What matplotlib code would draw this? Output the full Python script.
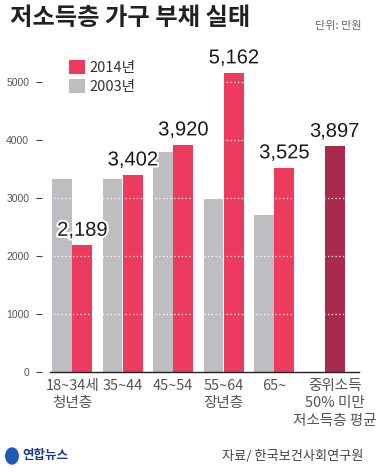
import matplotlib
matplotlib.use("Agg")
import matplotlib.pyplot as plt
import matplotlib.patheffects as pe
from matplotlib.patches import Circle
import numpy as np

plt.rcParams['font.family'] = ['Noto Sans CJK KR', 'DejaVu Sans']

# data (unit: 10,000 won)
groups = ['18~34세\n청년층', '35~44', '45~54', '55~64\n장년층', '65~']
debt_2003 = [3320, 3320, 3800, 2990, 2700]
debt_2014 = [2189, 3402, 3920, 5162, 3525]
avg_label = '중위소득\n50% 미만\n저소득층 평균'
avg_value = 3897
yticks = [0, 1000, 2000, 3000, 4000, 5000]

RED = '#EC3B5E'
GRAY = '#BEBEC2'
DARK = '#A82A4C'
NUM_FONT = ['Liberation Sans Narrow', 'Liberation Sans']

W, H = 379, 472
fig = plt.figure(figsize=(W / 100, H / 100), dpi=100)
fig.patch.set_facecolor('white')

# axes placed in pixel terms
left, right, bottom, top = 50, 359, 372, 53
ax = fig.add_axes([left / W, (H - bottom) / H, (right - left) / W, (bottom - top) / H])

x = np.arange(len(groups))
bw = 0.39
ax.bar(x - bw / 2 - 0.005, debt_2003, bw, color=GRAY, zorder=2, label='2003년')
ax.bar(x + bw / 2 + 0.005, debt_2014, bw, color=RED, zorder=2, label='2014년')
x_avg = len(groups) + bw / 2 + 0.005
ax.bar([x_avg], [avg_value], bw, color=DARK, zorder=2)

ax.set_xlim(-0.44, 5.68)
ax.set_ylim(0, 5500)

# white dotted gridlines over the bars
for t in yticks[1:]:
    ax.axhline(t, color='white', lw=0.9, ls=(0, (1, 2)), zorder=3)

# value labels
for xi, v in zip(x + bw / 2 + 0.005, debt_2014):
    ax.text(xi, v + 90, f'{v:,}', ha='center', va='bottom', fontsize=14.5,
            family=NUM_FONT, color='#1a1a1a', zorder=5,
            path_effects=[pe.withStroke(linewidth=3, foreground='white')])
ax.text(x_avg, avg_value + 90, f'{avg_value:,}', ha='center', va='bottom', fontsize=14.5,
        family=NUM_FONT, color='#1a1a1a', zorder=5)

# axes styling
for s in ['top', 'right', 'left']:
    ax.spines[s].set_visible(False)
ax.spines['bottom'].set_color('#222222')
ax.spines['bottom'].set_linewidth(1.0)
ax.spines['left'].set_position(('outward', 6))
ax.set_yticks(yticks)
ax.set_yticklabels([str(t) for t in yticks], fontsize=7.5, color='#555555', family=NUM_FONT)
ax.tick_params(axis='y', length=4, width=0.8, color='#444444', pad=5)
ax.set_xticks(list(x) + [x_avg])
ax.set_xticklabels(groups + [avg_label], fontsize=10.5, color='#555555', linespacing=1.3)
ax.tick_params(axis='x', length=0, pad=5)

# legend
ax.legend(handles=ax.containers[1:2] + ax.containers[0:1], loc='upper left',
          bbox_to_anchor=(0.02, 1.02), frameon=False, fontsize=10.5,
          handlelength=1.1, handleheight=1.1, handletextpad=0.25,
          labelspacing=0.3, labelcolor='#333333')

# title and notes
fig.text(10 / W, 1 - 18 / H, '저소득층 가구 부채 실태', fontsize=17.5, fontweight='bold',
         color='#222222', va='center', ha='left')
fig.text(362 / W, 1 - 26 / H, '단위: 만원', fontsize=8, color='#666666',
         va='center', ha='right')
fig.text(364 / W, 1 - 457 / H, '자료/ 한국보건사회연구원', fontsize=9.5, color='#444444',
         va='center', ha='right', style='italic')

# news agency mark
fig.patches.append(Circle((12 / W, 1 - 456 / H), 7 / W, transform=fig.transFigure,
                          facecolor='#1F5BB5', edgecolor='none'))
fig.text(22 / W, 1 - 456 / H, '연합뉴스', fontsize=9, fontweight='bold',
         color='#1B3A8C', va='center', ha='left')

fig.savefig('out.png', dpi=100, facecolor='white')
